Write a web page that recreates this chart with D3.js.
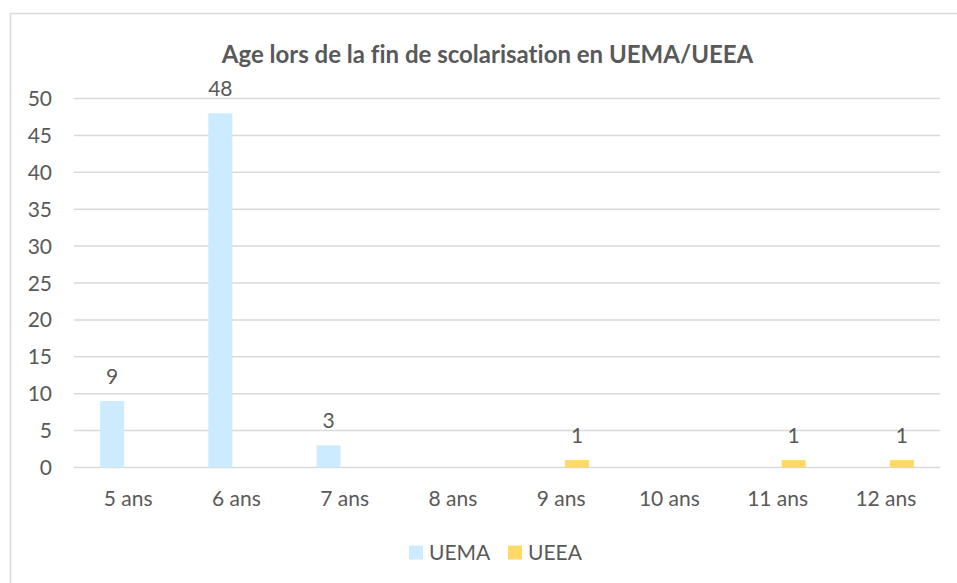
<!DOCTYPE html>
<html><head><meta charset="utf-8">
<script src="https://cdn.jsdelivr.net/npm/d3@7"></script>
<style>body{margin:0;background:#fff;} svg{display:block;} text{font-variant-ligatures:none;}</style>
</head><body>
<script>
const categories = ["5 ans","6 ans","7 ans","8 ans","9 ans","10 ans","11 ans","12 ans"];
const seriesNames = ["UEMA","UEEA"];
const uema = [9,48,3,null,null,null,null,null];
const ueea = [null,null,null,null,1,null,1,1];
const yTicks = [0,5,10,15,20,25,30,35,40,45,50];
const title = "Age lors de la fin de scolarisation en UEMA/UEEA";
const colors = {UEMA:"#CCEBFF", UEEA:"#FFD966"};

const W=957,H=583;
const font="Lato, 'Open Sans', sans-serif";
const txt="#595959";
const svg=d3.select("body").append("svg").attr("width",W).attr("height",H);
svg.append("rect").attr("x",10.5).attr("y",13.5).attr("width",W+10).attr("height",H+10)
  .attr("fill","#fff").attr("stroke","#d9d9d9").attr("stroke-width",1.5);

const x=d3.scaleBand().domain(categories).range([74,940]);
const y=d3.scaleLinear().domain([0,50]).range([467.5,98.5]);
const x1=d3.scaleBand().domain(seriesNames).paddingInner(0.25);

svg.append("g").selectAll("line").data(yTicks).join("line")
  .attr("x1",74).attr("x2",940).attr("y1",d=>y(d)).attr("y2",d=>y(d))
  .attr("stroke","#d9d9d9").attr("stroke-width",1.5);

svg.append("g").selectAll("text").data(yTicks).join("text")
  .attr("x",52).attr("y",d=>y(d)).attr("dy","0.36em").attr("text-anchor","end")
  .attr("font-family",font).attr("font-size",21).attr("fill",txt).text(d=>d);

svg.append("g").selectAll("text").data(categories).join("text")
  .attr("x",d=>x(d)+x.bandwidth()/2).attr("y",506).attr("text-anchor","middle")
  .attr("font-family",font).attr("font-size",21).attr("fill",txt).text(d=>d);

const series={UEMA:uema,UEEA:ueea};
const data=[];
seriesNames.forEach(s=>series[s].forEach((v,i)=>{ if(v!=null) data.push({s,c:categories[i],v}); }));

function barX(d){const c=x(d.c)+x.bandwidth()/2; x1.range([c-28,c+28]); return x1(d.s);}

const g=svg.append("g");
g.selectAll("rect").data(data).join("rect")
  .attr("x",barX).attr("width",24)
  .attr("y",d=>y(d.v)).attr("height",d=>y(0)-y(d.v))
  .attr("fill",d=>colors[d.s]);

g.selectAll("text").data(data).join("text")
  .attr("x",d=>barX(d)+12)
  .attr("y",d=>y(d.v)-17).attr("text-anchor","middle")
  .attr("font-family",font).attr("font-size",21).attr("fill",txt).text(d=>d.v);

svg.append("text").attr("x",487.5).attr("y",63).attr("text-anchor","middle")
  .attr("font-family",font).attr("font-weight","bold").attr("font-size",24).attr("fill",txt).text(title);

const leg=svg.append("g");
const lx=[409,508];
seriesNames.forEach((s,i)=>{
  leg.append("rect").attr("x",lx[i]).attr("y",545.5).attr("width",14).attr("height",14).attr("fill",colors[s]);
  leg.append("text").attr("x",lx[i]+20).attr("y",560).attr("font-family",font).attr("font-size",21).attr("fill",txt).text(s);
});
</script>
</body></html>
